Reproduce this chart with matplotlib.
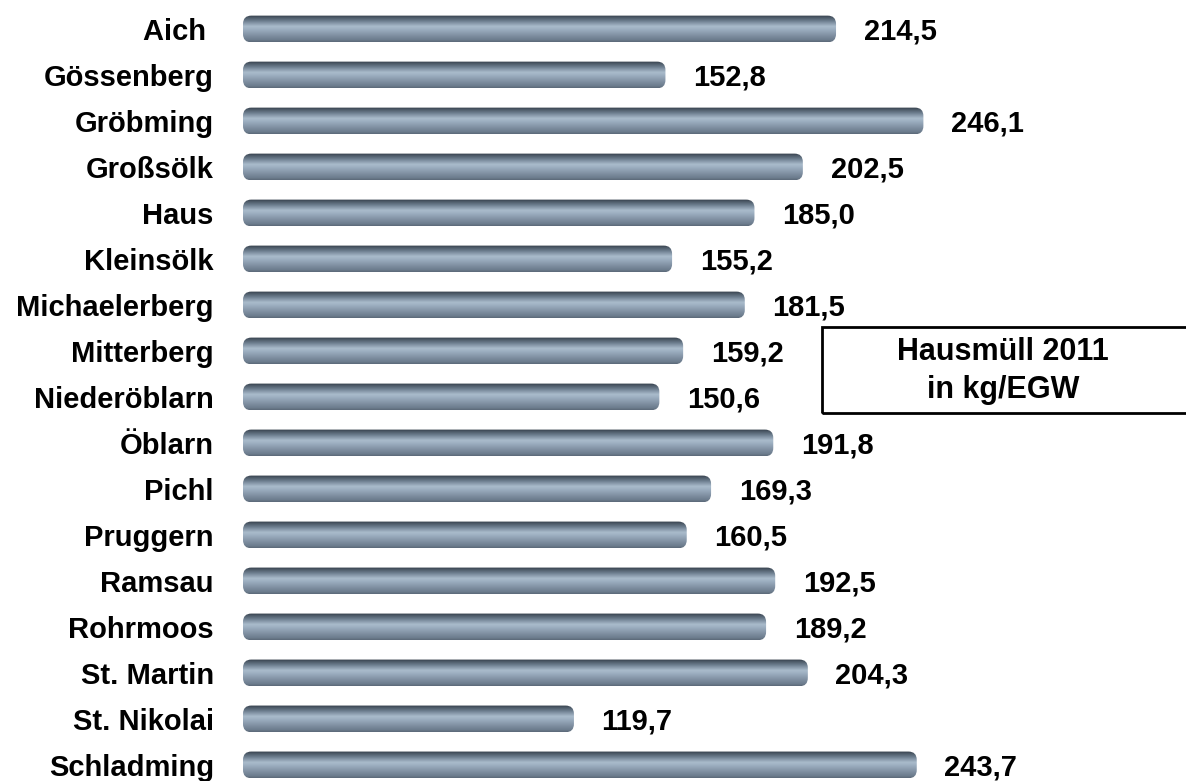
import matplotlib
matplotlib.use("Agg")
import matplotlib.pyplot as plt
import numpy as np
from matplotlib.colors import LinearSegmentedColormap
from matplotlib.patches import FancyBboxPatch

# data
gemeinden = ["Aich ", "Gössenberg", "Gröbming", "Großsölk", "Haus",
             "Kleinsölk", "Michaelerberg", "Mitterberg", "Niederöblarn",
             "Öblarn", "Pichl", "Pruggern", "Ramsau", "Rohrmoos",
             "St. Martin", "St. Nikolai", "Schladming"]
werte = [214.5, 152.8, 246.1, 202.5, 185.0, 155.2, 181.5, 159.2, 150.6,
         191.8, 169.3, 160.5, 192.5, 189.2, 204.3, 119.7, 243.7]
titel = "Hausmüll 2011\nin kg/EGW"

plt.rcParams["font.family"] = ["Liberation Sans", "DejaVu Sans"]
plt.rcParams["font.weight"] = "bold"


def main() -> int:
    """Draws the cylinder bar chart and saves it"""

    fig = plt.figure(figsize=(11.86, 7.81), dpi=100)
    ax = fig.add_axes([243 / 1186, 0, 940 / 1186, 1])
    xmax = 340
    ymin, ymax = -0.63, 16.35

    # metal look: thin dark top edge, light band, medium blue-grey body
    stops = [(0.0, "#333d48"), (0.08, "#4b5866"), (0.22, "#6f8091"),
             (0.42, "#aabccc"), (0.55, "#9aacbe"), (0.75, "#8191a3"),
             (0.92, "#6d7d8e"), (1.0, "#5c6a79")]
    cmap = LinearSegmentedColormap.from_list("metal", stops)
    grad = np.linspace(0, 1, 64).reshape(-1, 1)

    h = 0.58
    aspect = (1 / 46) / (1 / 2.765)
    for i, v in enumerate(werte):
        patch = FancyBboxPatch((0, i - h / 2), v, h,
                               boxstyle="round,pad=0,rounding_size=3",
                               mutation_aspect=aspect,
                               facecolor="none", edgecolor="none")
        ax.add_patch(patch)
        im = ax.imshow(grad, cmap=cmap, aspect="auto",
                       extent=(0, v, i + h / 2, i - h / 2),
                       interpolation="bilinear")
        im.set_clip_path(patch)
        ax.text(v + 10, i + 0.05, f"{v:.1f}".replace(".", ","),
                ha="left", va="center", fontsize=21, fontweight="bold")

    ax.set_xlim(0, xmax)
    ax.set_ylim(ymax, ymin)
    ax.set_yticks(range(len(gemeinden)), labels=gemeinden)
    ax.tick_params(axis="y", length=0, pad=21, labelsize=21)
    ax.set_xticks([])
    for s in ax.spines.values():
        s.set_visible(False)

    # title box at the right
    fig.text(1003 / 1186, 1 - 371 / 781, titel, ha="center", va="center",
             fontsize=22, fontweight="bold", linespacing=1.35,
             transform=fig.transFigure)
    box = plt.Rectangle((822 / 1186, 1 - 413 / 781), 370 / 1186, 86 / 781,
                        transform=fig.transFigure, fill=False,
                        edgecolor="black", linewidth=2)
    fig.add_artist(box)

    fig.savefig("out.png", dpi=100)
    return 0


if __name__ == "__main__":
    main()
